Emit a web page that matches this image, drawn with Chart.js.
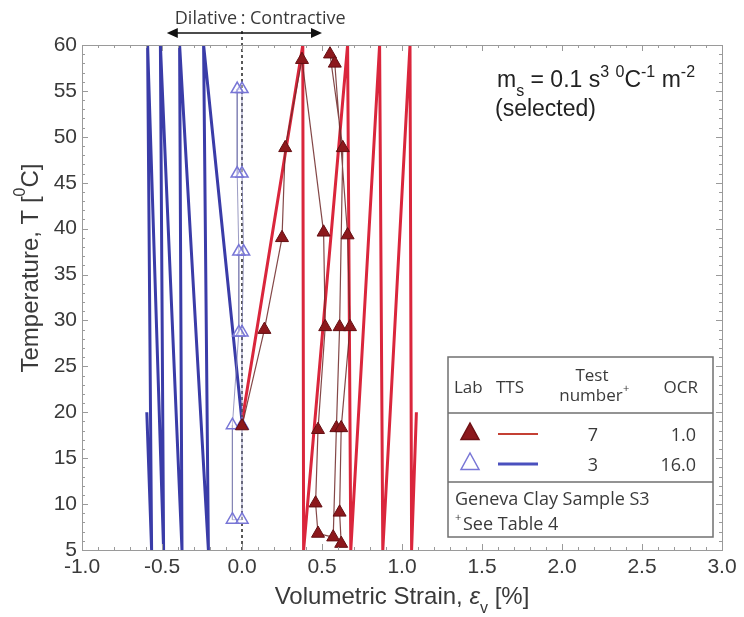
<!DOCTYPE html>
<html>
<head>
<meta charset="utf-8">
<script src="https://cdn.jsdelivr.net/npm/chart.js@4.4.1/dist/chart.umd.min.js"></script>
<style>
	html, body { margin: 0; padding: 0; background: #fff; }
	#wrap { width: 744px; height: 617px; }
</style>
</head>
<body>
<div id="wrap"><canvas id="strainChart" width="744" height="617"></canvas></div>
<script>
"use strict";

// TTS model, test 3 (OCR 16) - blue
const blueTtsStrain = [0.0, -0.24, -0.21, -0.39, -0.375, -0.51, -0.49, -0.59, -0.565, -0.595];
const blueTtsTemp = [19.0, 60.0, 5.0, 60.0, 5.0, 60.0, 5.0, 60.0, 5.0, 20.0];

// TTS model, test 7 (OCR 1) - red
const redTtsStrain = [0.0, 0.38, 0.385, 0.66, 0.68, 0.86, 0.88, 1.05, 1.06, 1.09];
const redTtsTemp = [19.0, 60.0, 5.0, 60.0, 5.0, 60.0, 5.0, 60.0, 5.0, 20.0];

// lab measurements, test 7
const redLabStrain = [0.0, 0.14, 0.25, 0.27, 0.375, 0.51, 0.52, 0.475, 0.46, 0.475, 0.57, 0.59, 0.61, 0.63, 0.55, 0.58, 0.66, 0.675, 0.62, 0.61, 0.62];
const redLabTemp = [18.5, 29.0, 39.0, 48.8, 58.4, 39.6, 29.3, 18.1, 10.1, 6.8, 6.4, 18.3, 29.3, 48.8, 59.0, 58.0, 39.3, 29.3, 18.3, 9.1, 5.7];

// lab measurements, test 3
const blueLabStrain = [0.0, 0.0, 0.01, 0.0, 0.0, -0.03, -0.03, -0.02, -0.02, -0.06, -0.06, 0.0, 0.0];
const blueLabTemp = [18.6, 28.7, 37.5, 46.0, 55.2, 55.2, 46.0, 37.5, 28.7, 18.6, 8.3, 8.3, 18.6];

// x = 0 divider, runs up to the dilative/contractive arrow
const zeroLineStrain = [0.0, 0.0];
const zeroLineTemp = [5.0, 61.8];

const xMin = -1.0, xMax = 3.0, xStep = 0.5;
const yMin = 5, yMax = 60, yStep = 5;

const tableRows = [
	{ test: "7", ocr: "1.0", filled: true },
	{ test: "3", ocr: "16.0", filled: false }
];

const blueTts = "rgb(58, 60, 168)";
const redTts = "rgb(218, 38, 60)";
const labRed = "rgb(140, 24, 28)";
const labBlue = "rgb(120, 118, 214)";
const textGrey = "#3a3a3a";
const tableFont = "'Open Sans'";
const axisFont = "'Liberation Sans'";

function toPoints(xs, ys) {
	return xs.map((x, i) => ({ x: x, y: ys[i] }));
}

function drawTriangle(ctx, cx, cy, r, fill, stroke) {
	ctx.beginPath();
	ctx.moveTo(cx, cy - r);
	ctx.lineTo(cx + r * 0.9, cy + r * 0.65);
	ctx.lineTo(cx - r * 0.9, cy + r * 0.65);
	ctx.closePath();
	if (fill) {
		ctx.fillStyle = fill;
		ctx.fill();
	}
	ctx.strokeStyle = stroke;
	ctx.lineWidth = 1.5;
	ctx.stroke();
}

// pieces are [text, shift, italic]; shift: 0 normal, 1 superscript, -1 subscript
function richFont(size, shift, italic, family) {
	const s = shift === 0 ? size : Math.round(size * 0.68);
	return (italic ? "italic " : "") + s + "px " + family;
}

function richWidth(ctx, parts, size, family) {
	let w = 0;
	parts.forEach(([txt, shift, italic]) => {
		ctx.font = richFont(size, shift, italic, family);
		w += ctx.measureText(txt).width;
	});
	return w;
}

function drawRich(ctx, x, y, parts, size, family) {
	let cx = x;
	parts.forEach(([txt, shift, italic]) => {
		ctx.font = richFont(size, shift, italic, family);
		const dy = shift === 1 ? -size * 0.42 : (shift === -1 ? size * 0.38 : 0);
		ctx.fillText(txt, cx, y + dy);
		cx += ctx.measureText(txt).width;
	});
	return cx;
}

const decorations = {
	id: "decorations",
	afterDatasetsDraw(chart) {
		const ctx = chart.ctx;
		const area = chart.chartArea;
		const xs = chart.scales.x;
		const ys = chart.scales.y;
		ctx.save();
		ctx.textAlign = "left";
		ctx.textBaseline = "alphabetic";

		// frame and inward ticks
		ctx.strokeStyle = "#9a9a9a";
		ctx.lineWidth = 1;
		ctx.strokeRect(area.left + 0.5, area.top + 0.5, area.right - area.left, area.bottom - area.top);
		ctx.beginPath();
		for (let v = xMin; v <= xMax + 1e-9; v += 0.1) {
			const px = Math.round(xs.getPixelForValue(v)) + 0.5;
			const major = Math.abs(v / xStep - Math.round(v / xStep)) < 1e-6;
			const len = major ? 6 : 3;
			ctx.moveTo(px, area.bottom); ctx.lineTo(px, area.bottom - len);
			ctx.moveTo(px, area.top); ctx.lineTo(px, area.top + len);
		}
		for (let v = yMin; v <= yMax; v += 1) {
			const py = Math.round(ys.getPixelForValue(v)) + 0.5;
			const len = v % yStep === 0 ? 6 : 3;
			ctx.moveTo(area.left, py); ctx.lineTo(area.left + len, py);
			ctx.moveTo(area.right, py); ctx.lineTo(area.right - len, py);
		}
		ctx.stroke();

		// x axis title with italic epsilon and subscript v
		ctx.fillStyle = textGrey;
		const xTitle = [["Volumetric Strain, ", 0, false], ["\u03b5", 0, true], ["v", -1, false], [" [%]", 0, false]];
		const xTitleW = richWidth(ctx, xTitle, 24, axisFont);
		drawRich(ctx, (area.left + area.right) / 2 - xTitleW / 2, 604, xTitle, 24, axisFont);

		// y axis title, set a little above the axis middle
		ctx.save();
		ctx.translate(31, 268);
		ctx.rotate(-Math.PI / 2);
		ctx.textBaseline = "middle";
		const yTitle = [["Temperature, T [", 0, false], ["0", 1, false], ["C]", 0, false]];
		const yTitleW = richWidth(ctx, yTitle, 24, axisFont);
		drawRich(ctx, -yTitleW / 2, 0, yTitle, 24, axisFont);
		ctx.restore();

		// dilative / contractive arrow above the plot
		const x0 = xs.getPixelForValue(0);
		const aL = xs.getPixelForValue(-0.47);
		const aR = xs.getPixelForValue(0.5);
		const aY = area.top - 12;
		ctx.strokeStyle = "#111";
		ctx.fillStyle = "#111";
		ctx.lineWidth = 1.5;
		ctx.beginPath();
		ctx.moveTo(aL + 6, aY); ctx.lineTo(aR - 6, aY);
		ctx.stroke();
		ctx.beginPath();
		ctx.moveTo(aL, aY); ctx.lineTo(aL + 11, aY - 5); ctx.lineTo(aL + 11, aY + 5); ctx.closePath();
		ctx.moveTo(aR, aY); ctx.lineTo(aR - 11, aY - 5); ctx.lineTo(aR - 11, aY + 5); ctx.closePath();
		ctx.fill();

		ctx.fillStyle = textGrey;
		ctx.font = "18px " + tableFont;
		ctx.textAlign = "right";
		ctx.fillText("Dilative", x0 - 5, area.top - 21);
		ctx.textAlign = "center";
		ctx.fillText(":", x0 + 1, area.top - 21);
		ctx.textAlign = "left";
		ctx.fillText("Contractive", x0 + 8, area.top - 21);

		// model parameter note
		ctx.fillStyle = "#222";
		drawRich(ctx, 497, 87, [["m", 0], ["s", -1], [" = 0.1 s", 0], ["3", 1], [" ", 0], ["0", 1], ["C", 0], ["-1", 1], [" m", 0], ["-2", 1]], 23, axisFont);
		ctx.font = "23px " + axisFont;
		ctx.fillText("(selected)", 495, 116);

		// legend table
		const bx = 448, by = 357, bw = 265, bh = 180;
		ctx.fillStyle = "#fff";
		ctx.fillRect(bx, by, bw, bh);
		ctx.strokeStyle = "#707070";
		ctx.lineWidth = 1.5;
		ctx.strokeRect(bx, by, bw, bh);
		ctx.beginPath();
		ctx.moveTo(bx, 413); ctx.lineTo(bx + bw, 413);
		ctx.moveTo(bx, 482); ctx.lineTo(bx + bw, 482);
		ctx.stroke();

		ctx.fillStyle = textGrey;
		ctx.font = "17px " + tableFont;
		ctx.textAlign = "left";
		ctx.fillText("Lab", 454, 393);
		ctx.fillText("TTS", 496, 393);
		ctx.textAlign = "center";
		ctx.fillText("Test", 592, 381);
		ctx.fillText("number", 591, 401);
		ctx.textAlign = "left";
		ctx.font = "11px " + tableFont;
		ctx.fillText("+", 623, 392);
		ctx.font = "17px " + tableFont;
		ctx.textAlign = "right";
		ctx.fillText("OCR", 698, 393);

		tableRows.forEach((row, i) => {
			const ry = 434 + i * 30;
			if (row.filled) {
				drawTriangle(ctx, 470, ry - 1, 10, labRed, "rgb(110, 16, 20)");
			} else {
				drawTriangle(ctx, 470, ry - 1, 10, null, labBlue);
			}
			ctx.strokeStyle = row.filled ? "rgb(196, 64, 52)" : "rgb(74, 80, 190)";
			ctx.lineWidth = row.filled ? 2 : 3;
			ctx.beginPath();
			ctx.moveTo(498, ry); ctx.lineTo(538, ry);
			ctx.stroke();
			ctx.fillStyle = textGrey;
			ctx.font = "18px " + tableFont;
			ctx.textAlign = "center";
			ctx.fillText(row.test, 593, ry + 7);
			ctx.textAlign = "right";
			ctx.fillText(row.ocr, 696, ry + 7);
		});

		ctx.textAlign = "left";
		ctx.font = "18px " + tableFont;
		ctx.fillText("Geneva Clay Sample S3", 455, 505);
		ctx.fillText("See Table 4", 463, 530);
		ctx.font = "11px " + tableFont;
		ctx.fillText("+", 455, 521);

		ctx.restore();
	}
};

const strainChart = new Chart(document.getElementById("strainChart").getContext("2d"), {
	type: "scatter",
	data: {
		datasets: [
			{
				label: "Lab 7",
				data: toPoints(redLabStrain, redLabTemp),
				showLine: true,
				borderColor: "rgba(110, 40, 40, 0.85)",
				borderWidth: 1.2,
				pointStyle: "triangle",
				pointRadius: 7.5,
				pointBackgroundColor: labRed,
				pointBorderColor: "rgb(100, 14, 18)",
				pointBorderWidth: 1,
				order: 0
			},
			{
				label: "Lab 3",
				data: toPoints(blueLabStrain, blueLabTemp),
				showLine: true,
				borderColor: "rgba(130, 130, 180, 0.8)",
				borderWidth: 1,
				pointStyle: "triangle",
				pointRadius: 7,
				pointBackgroundColor: "rgba(255, 255, 255, 0.35)",
				pointBorderColor: labBlue,
				pointBorderWidth: 1.5,
				order: 1
			},
			{
				label: "zero",
				data: toPoints(zeroLineStrain, zeroLineTemp),
				showLine: true,
				borderColor: "#222",
				borderWidth: 1.5,
				borderDash: [3, 3],
				pointRadius: 0,
				clip: false,
				order: 2
			},
			{
				label: "TTS 7",
				data: toPoints(redTtsStrain, redTtsTemp),
				showLine: true,
				borderColor: redTts,
				borderWidth: 3,
				pointRadius: 0,
				order: 3
			},
			{
				label: "TTS 3",
				data: toPoints(blueTtsStrain, blueTtsTemp),
				showLine: true,
				borderColor: blueTts,
				borderWidth: 3,
				pointRadius: 0,
				order: 4
			}
		]
	},
	options: {
		responsive: false,
		animation: false,
		devicePixelRatio: 1,
		layout: { padding: { left: 0, right: 22, top: 45, bottom: 0 } },
		plugins: {
			legend: { display: false },
			tooltip: { enabled: false }
		},
		scales: {
			x: {
				type: "linear",
				min: xMin,
				max: xMax,
				ticks: {
					stepSize: xStep,
					color: textGrey,
					font: { family: axisFont, size: 21 },
					padding: 5,
					callback: v => v.toFixed(1)
				},
				grid: { display: false, drawTicks: false },
				border: { display: false },
				title: { display: false },
				afterFit(scale) { scale.height = 67; }
			},
			y: {
				type: "linear",
				min: yMin,
				max: yMax,
				ticks: {
					stepSize: yStep,
					color: textGrey,
					font: { family: axisFont, size: 21 },
					padding: 5
				},
				grid: { display: false, drawTicks: false },
				border: { display: false },
				title: { display: false },
				afterFit(scale) { scale.width = 82; }
			}
		}
	},
	plugins: [decorations]
});
</script>
</body>
</html>
